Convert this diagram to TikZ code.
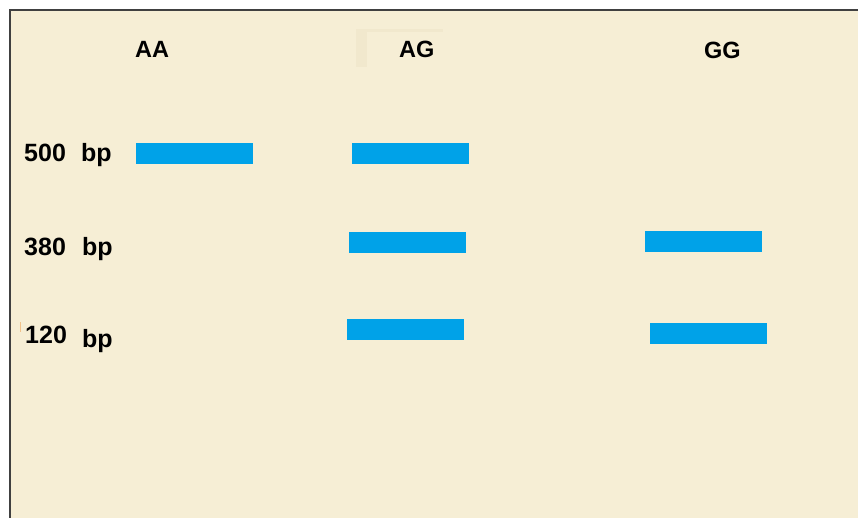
\documentclass[tikz,border=0pt]{standalone}
\usepackage{fontspec}
\setmainfont{Liberation Sans}
\definecolor{gelbg}{HTML}{F6EED5}
\definecolor{ghost}{HTML}{F1E8CD}
\definecolor{bandblue}{HTML}{00A2E8}
\definecolor{framegray}{HTML}{404040}
\definecolor{tick}{HTML}{F2C28A}
\tikzset{
  band/.style={fill=bandblue, draw=none},
  lanelabel/.style={anchor=base west, inner sep=0pt, font=\bfseries\fontsize{23.5}{23.5}\selectfont},
  sizelabel/.style={anchor=base west, inner sep=0pt, font=\bfseries\fontsize{25}{25}\selectfont},
}
\begin{document}
\begin{tikzpicture}[x=1pt, y=-1pt]
  \useasboundingbox (0,0) rectangle (858,518);
  % page and gel area
  \fill[white] (0,0) rectangle (858,518);
  \fill[gelbg] (10,10.5) rectangle (858,518);
  % faint remnant of a text box behind the AG label
  \fill[ghost] (356,29) rectangle (367,67);
  \fill[ghost] (356,29) rectangle (443,32);
  % frame lines along top and left
  \draw[framegray, line width=2pt] (10,518) -- (10,10.5) -- (858,10.5);
  % lane headings
  \node[lanelabel] (aa) at (135,58) {AA};
  \node[lanelabel] (ag) at (399,58) {AG};
  \node[lanelabel] (gg) at (704,59) {GG};
  % size markers
  \node[sizelabel] (n500) at (24,162) {500};
  \node[sizelabel] (b500) at (81,162) {bp};
  \node[sizelabel] (n380) at (24,256) {380};
  \node[sizelabel] (b380) at (82,256) {bp};
  \node[sizelabel] (n120) at (25,343) {120};
  \node[sizelabel] (b120) at (82,347) {bp};
  \fill[tick] (19.5,322) rectangle (21,332);
  % bands
  \fill[band] (136,143) rectangle (253,164);
  \fill[band] (352,143) rectangle (469,164);
  \fill[band] (349,232) rectangle (466,253);
  \fill[band] (645,231) rectangle (762,252);
  \fill[band] (347,319) rectangle (464,340);
  \fill[band] (650,323) rectangle (767,344);
\end{tikzpicture}
\end{document}
